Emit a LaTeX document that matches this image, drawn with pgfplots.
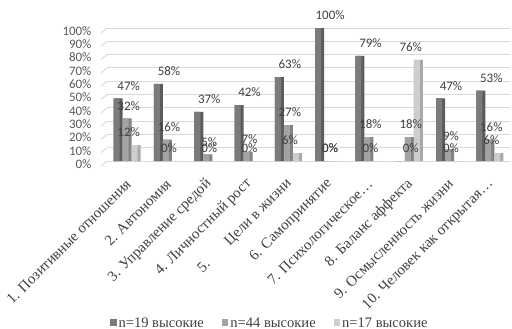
\documentclass[border=0pt]{standalone}
\usepackage{pgfplots}
\usepackage{pgfplotstable}
\pgfplotsset{compat=1.18}
\usepackage{fontspec}
\setmainfont{Liberation Serif}
\newfontfamily\timesf{Liberation Serif}
\newfontfamily\calibri{Carlito}

\definecolor{sA}{HTML}{7B7B7B}
\definecolor{sAside}{HTML}{5C5C5C}
\definecolor{sB}{HTML}{A3A3A3}
\definecolor{sBside}{HTML}{838383}
\definecolor{sC}{HTML}{CDCDCD}
\definecolor{sCside}{HTML}{A9A9A9}
\definecolor{gridc}{HTML}{D9D9D9}
\definecolor{txt}{HTML}{404040}
\definecolor{ticktxt}{HTML}{595959}

% share of "high" scores per scale, %
\pgfplotstableread{
x  a    b   c
1  47   32  12
2  58   16  0
3  37   5   0
4  42   7   0
5  63   27  6
6  100  0   0
7  79   18  0
8  0    18  76
9  47   9   0
10 53   16  6
}\scales

\begin{document}
\begin{tikzpicture}
\begin{axis}[
  scale only axis,
  width=403bp, height=133bp,
  xmin=0.5, xmax=10.5, ymin=0, ymax=100,
  axis line style={draw=none},
  major tick length=0pt,
  ytick={0,10,...,100},
  yticklabel={\pgfmathprintnumber{\tick}\%},
  yticklabel style={font=\calibri\fontsize{13}{15}\selectfont, text=ticktxt, xshift=-12bp, yshift=-3bp},
  ymajorgrids,
  grid style={color=gridc, line width=0.9bp},
  xtick={1,...,10},
  xticklabels={
    1. Позитивные отношения,
    2. Автономия,
    3. Управление средой,
    4. Личностный рост,
    5.\hspace{27bp}Цели в жизни,
    6. Самопринятие,
    7. Психологическое…,
    8. Баланс аффекта,
    9. Осмысленность жизни,
    10. Человек как открытая…},
  xticklabel style={yshift=-20bp, xshift=2bp, rotate=45, anchor=east, inner sep=1bp,
    font=\timesf\fontsize{15}{17}\selectfont, text=txt},
  /pgf/number format/assume math mode=true,
  ybar,
  nodes near coords={\pgfmathprintnumber{\pgfplotspointmeta}\%},
  every node near coord/.style={font=\calibri\fontsize{13}{15}\selectfont, text=txt, anchor=south, inner sep=0pt, yshift=8bp, xshift=1.5bp},
  legend style={draw=none, fill=none, at={(0.404,-1.218)}, anchor=center,
    legend columns=3, font=\timesf\fontsize{14.6}{17}\selectfont, text=txt,
    /tikz/every even column/.append style={column sep=16bp}},
  legend cell align=left,
  legend image code/.code={\fill[#1,draw=none] (0bp,-3bp) rectangle (6.5bp,3.5bp);},
  clip=false,
]
% short slanted strokes of the side wall at each gridline
\foreach \v in {0,10,...,100} {
  \edef\tmp{\noexpand\draw[gridc, line width=0.9bp] (axis cs:0.5,\v) ++(-6bp,-5bp) -- (axis cs:0.5,\v);}
  \tmp
}
% side faces
\addplot[forget plot, fill=sAside, draw=none, bar width=9bp, bar shift=-9bp, nodes near coords={}] table[x=x, y=a] {\scales};
\addplot[forget plot, fill=sBside, draw=none, bar width=9bp, bar shift=0bp, nodes near coords={}] table[x=x, y=b] {\scales};
\addplot[forget plot, fill=sCside, draw=none, bar width=9bp, bar shift=9bp, nodes near coords={}] table[x=x, y=c] {\scales};
% front faces with values
\addplot[fill=sA, draw=none, bar width=6bp, bar shift=-10.5bp] table[x=x, y=a] {\scales};
\addplot[fill=sB, draw=none, bar width=6bp, bar shift=-1.5bp] table[x=x, y=b] {\scales};
\addplot[fill=sC, draw=none, bar width=6bp, bar shift=7.5bp] table[x=x, y=c] {\scales};
\legend{n=19 высокие, n=44 высокие, n=17 высокие}
\coordinate (O) at (rel axis cs:0,0);
\end{axis}
\pgfresetboundingbox
\path (O) ++(-107bp,-168bp) rectangle ++(512bp,329bp);
\end{tikzpicture}
\end{document}
